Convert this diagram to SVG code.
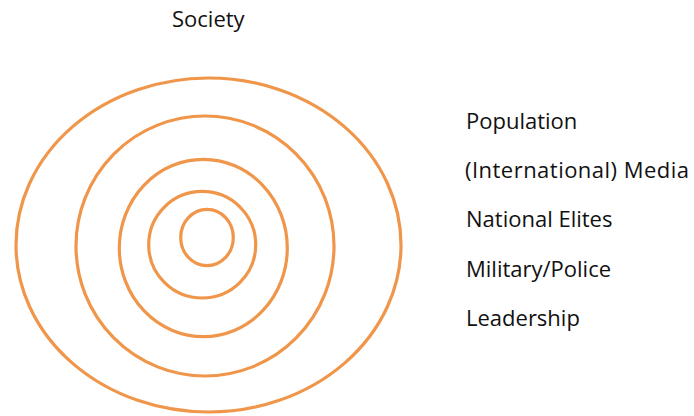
<svg xmlns="http://www.w3.org/2000/svg" width="694" height="416" viewBox="0 0 694 416">
<style>
.ring{fill:none;stroke:#F0964A;stroke-width:3.2}
.lbl{font-family:"Open Sans","Noto Sans","Liberation Sans",sans-serif;font-size:22px;fill:#111111}
</style>
<rect width="694" height="416" fill="#ffffff"/>
<g id="society-title"><text class="lbl" x="172" y="27">Society</text></g>
<g id="ring-population"><ellipse class="ring" cx="208.5" cy="245" rx="192.5" ry="167"/></g>
<g id="ring-media"><ellipse class="ring" cx="205" cy="246" rx="129" ry="130"/></g>
<g id="ring-elites"><ellipse class="ring" cx="203.3" cy="248" rx="84" ry="88.7"/></g>
<g id="ring-military"><ellipse class="ring" cx="202.2" cy="244.7" rx="53.5" ry="53.3"/></g>
<g id="ring-leadership"><ellipse class="ring" cx="207" cy="237.5" rx="26.3" ry="28.2"/></g>
<g id="legend">
<text class="lbl" x="466" y="129">Population</text>
<text class="lbl" x="465" y="178.2" textLength="224" lengthAdjust="spacing">(International) Media</text>
<text class="lbl" x="466" y="227.4">National Elites</text>
<text class="lbl" x="466" y="276.6">Military/Police</text>
<text class="lbl" x="466" y="325.8">Leadership</text>
</g>
<g id="connectors"/>
</svg>
